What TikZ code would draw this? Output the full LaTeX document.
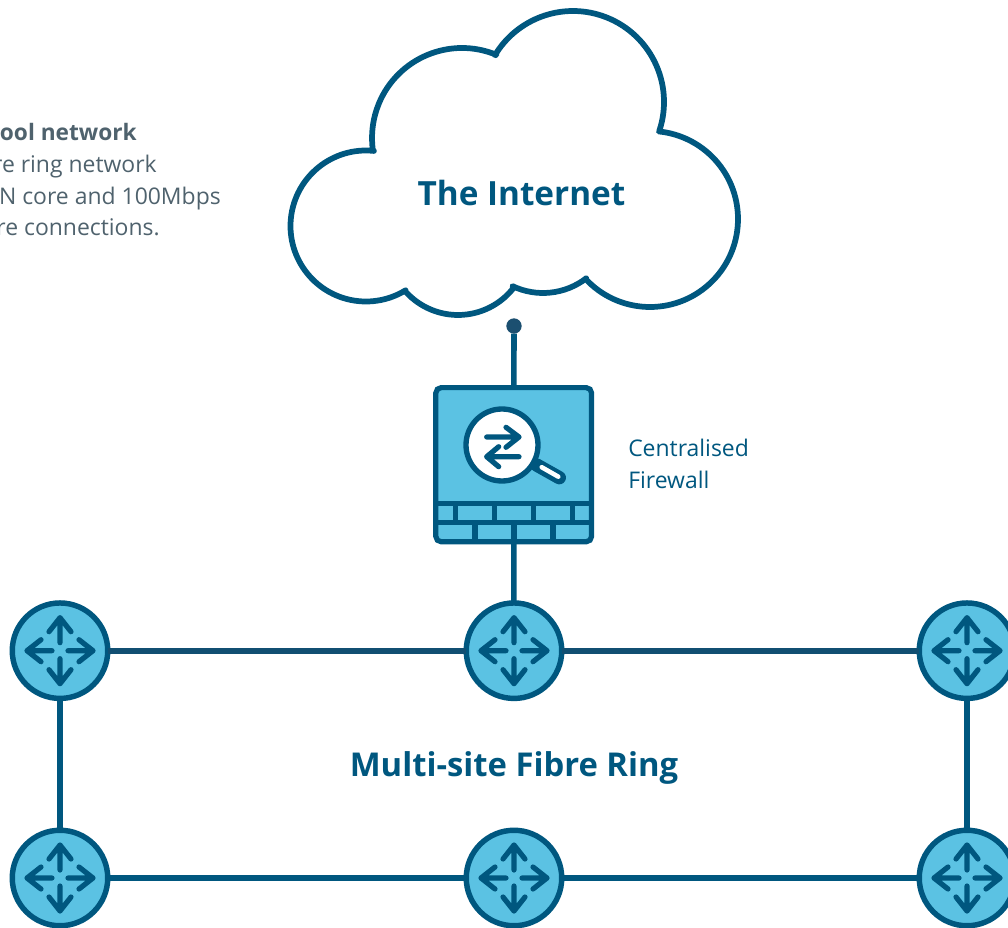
\documentclass[tikz,border=0pt]{standalone}
\usepackage{fontspec}
\setmainfont{Open Sans}
\definecolor{ink}{HTML}{00577F}
\definecolor{linkdark}{HTML}{114F72}
\definecolor{dotc}{HTML}{1B4F70}
\definecolor{sky}{HTML}{5BC2E3}
\definecolor{slate}{HTML}{4F626D}
\tikzset{
  px/.style={x=.75pt,y=.75pt},
  link/.style={draw=ink,line width=4.2pt},
  linkh/.style={draw=linkdark,line width=4.2pt},
  router/.style={circle,draw=ink,fill=sky,line width=4.1pt,minimum size=71.6pt,inner sep=0pt,outer sep=0pt},
  glyph/.style={draw=ink,line width=3.9pt,line cap=round,line join=round},
  firewall/.style={rectangle,draw=ink,fill=sky,line width=3.9pt,rounded corners=4pt,minimum width=116.8pt,minimum height=115.6pt,inner sep=0pt,outer sep=0pt},
  brick/.style={draw=ink,line width=3.8pt},
  headline/.style={text=ink,font=\bfseries\fontsize{25pt}{36pt}\selectfont,inner sep=0pt,anchor=base},
  ringline/.style={text=ink,font=\bfseries\fontsize{24.6pt}{36pt}\selectfont,inner sep=0pt,anchor=base},
  caption/.style={text=ink,font=\fontsize{17.2pt}{24pt}\selectfont,inner sep=0pt,anchor=base west},
  side/.style={text=slate,font=\fontsize{17.2pt}{24pt}\selectfont,inner sep=0pt,anchor=base east},
  sidebold/.style={side,font=\bfseries\fontsize{17pt}{24pt}\selectfont},
  cloudline/.style={draw=ink,line width=4.3pt,line join=round,fill=white},
  pics/fourway/.style={code={
    \draw[glyph] (-11,19)--(0,33)--(11,19) (0,33)--(0,8);
    \draw[glyph] (-11,-19)--(0,-33)--(11,-19) (0,-33)--(0,-8);
    \draw[glyph] (19,-11)--(33,0)--(19,11) (33,0)--(8,0);
    \draw[glyph] (-19,-11)--(-33,0)--(-19,11) (-33,0)--(-8,0);
  }}
}
\newcommand{\lobe}[5]{([shift={(#4:#3*.75pt)}]#1,#2) arc[start angle=#4,end angle=#5,radius=#3*.75pt]}
\begin{document}
\begin{tikzpicture}[px]
\useasboundingbox (0,-928) rectangle (1008,0);
\clip (0,-928) rectangle (1008,0);
% cloud
\draw[cloudline]
  \lobe{366}{-226}{75.5}{84}{301.6} --
  \lobe{458}{-244.5}{70.5}{221.3}{321.8} --
  \lobe{543}{-222}{71}{244.5}{307.5} --
  \lobe{650}{-219}{88}{222.7}{444.2} --
  \lobe{573}{-102}{91}{-18.6}{149.1} --
  \lobe{462}{-138}{90}{67.5}{187.7} -- cycle;
\node[headline] (inet) at (521.5,-205) {The Internet};
% nodes
\node[circle,fill=dotc,minimum size=11.5pt,inner sep=0pt,outer sep=0pt] (dot) at (514,-326) {};
\node[firewall] (fw) at (513.7,-464.7) {};
\foreach \n/\x/\y in {ra/60/-650.7,rb/514/-650.7,rc/967/-650.7,rd/60/-878,re/514/-878,rf/967/-878}{
  \node[router] (\n) at (\x,\y) {};
  \pic at (\n) {fourway};
}
% connectors
\draw[link] (dot) -- (fw);
\draw[link] (fw) -- (rb);
\draw[linkh] (ra) -- (rb);
\draw[linkh] (rb) -- (rc);
\draw[link] (ra) -- (rd);
\draw[link] (rc) -- (rf);
\draw[link] (rd) -- (re);
\draw[link] (re) -- (rf);
% firewall details
\draw[brick] (fw.west |- 0,-503.3) -- (fw.east |- 0,-503.3);
\draw[brick] (fw.west |- 0,-522.7) -- (fw.east |- 0,-522.7);
\foreach \x in {455.3,494.3,533.3,572.3}{\draw[brick] (\x,-503.3)--(\x,-522.7);}
\foreach \x in {475,514,553}{\draw[brick] (\x,-522.7)--(\x,-542.5);}
\draw[ink,line width=10pt,line cap=round] (536.7,-465)--(559.3,-477.7);
\draw[white,line width=3.4pt,line cap=round] (541.7,-467.2)--(558.3,-476.7);
\node[circle,draw=ink,fill=white,line width=4pt,minimum size=54pt,inner sep=0pt] (lens) at (502,-445) {};
\draw[glyph] (486.7,-437)--(519,-437) (506,-427.3)--(519,-437)--(506,-447.3);
\draw[glyph] (519,-456.7)--(486.7,-456.7) (498.7,-446.7)--(486.7,-456.7)--(498.7,-466.7);
% text
\node[caption] (capa) at (628,-456.5) {Centralised};
\node[caption] (capb) at (628,-488.5) {Firewall};
\node[ringline] (ring) at (514,-776) {Multi-site Fibre Ring};
\node[sidebold] (ta) at (137,-140.5) {ool network};
\node[side] (tb) at (157,-172) {re ring network};
\node[side] (tc) at (221,-204) {N core and 100Mbps};
\node[side] (td) at (160,-235.7) {re connections.};
\end{tikzpicture}
\end{document}
